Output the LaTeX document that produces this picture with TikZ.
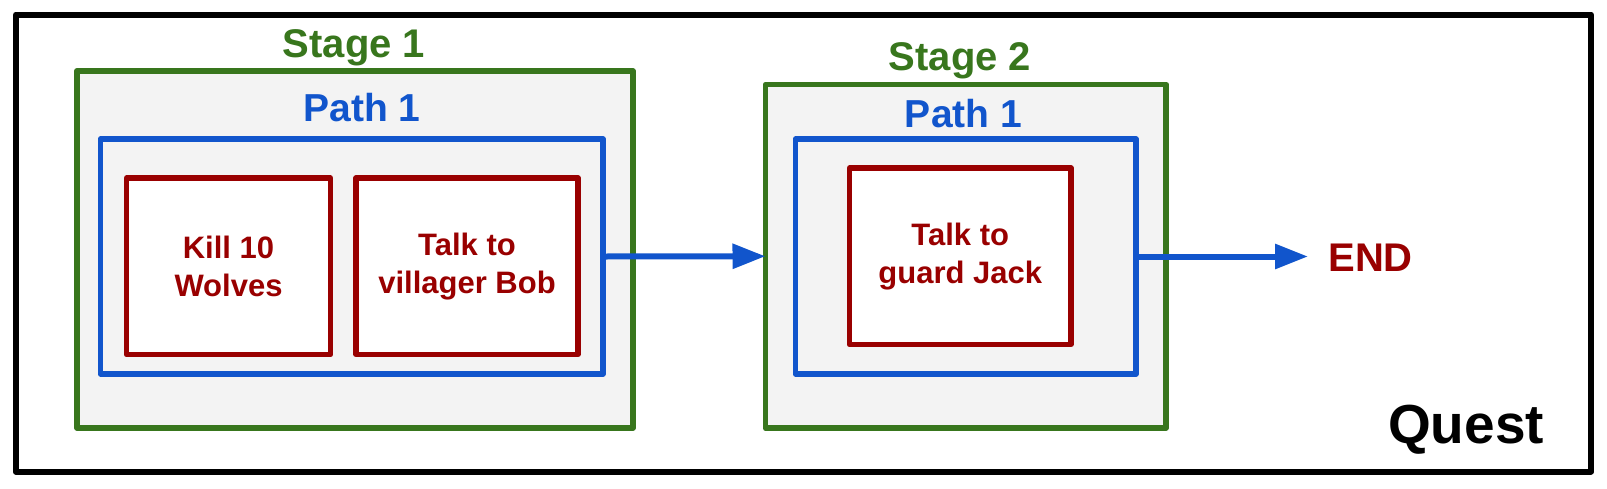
\documentclass[tikz,border=0pt]{standalone}
\usepackage{fontspec}
\setmainfont{Liberation Sans}
\usetikzlibrary{arrows.meta}
\definecolor{qgreen}{HTML}{38761D}
\definecolor{qblue}{HTML}{1155CC}
\definecolor{qred}{HTML}{990000}
\definecolor{qgray}{HTML}{F3F3F3}
\begin{document}
\begin{tikzpicture}[x=0.5pt,y=-0.5pt,
  box/.style={rectangle, outer sep=0pt, inner sep=0pt, line join=round},
  questbox/.style={box, draw=black, line width=3pt},
  stagebox/.style={box, draw=qgreen, fill=qgray, line width=2.9pt},
  pathbox/.style={box, draw=qblue, fill=qgray, line width=2.8pt},
  taskbox/.style={box, draw=qred, fill=white, line width=2.7pt, text=qred,
    font=\bfseries\fontsize{15.5}{19}\selectfont, align=center},
  stagetitle/.style={anchor=base, text=qgreen, inner sep=0pt,
    font=\bfseries\fontsize{20}{24}\selectfont},
  pathtitle/.style={anchor=base, text=qblue, inner sep=0pt,
    font=\bfseries\fontsize{19.5}{24}\selectfont},
  flow/.style={draw=qblue, line width=3pt, -{Triangle[length=16.5pt,width=12pt]}}
]
\useasboundingbox (0,0) rectangle (1607,488);
\fill[white] (0,0) rectangle (1607,488);

% outer quest frame
\node[questbox, minimum width=787.6pt, minimum height=228.5pt] (quest) at (803.4,243) {};
\node[anchor=base, inner sep=0pt, font=\bfseries\fontsize{27.5}{32}\selectfont] (questlabel) at (1466,443) {Quest};

% stage 1
\node[stagebox, minimum width=278pt, minimum height=178.5pt] (s1) at (355,249.5) {};
\node[stagetitle] (s1t) at (354,57) {Stage 1};
\node[pathbox, minimum width=251.25pt, minimum height=117.5pt] (p1) at (351.75,256.5) {};
\node[pathtitle] (p1t) at (362,121) {Path 1};
\node[taskbox, minimum width=102pt, minimum height=88.25pt] (t1) at (228.5,266.25) {Kill 10\\Wolves};
\node[taskbox, minimum width=111pt, minimum height=88.25pt] (t2) at (467,266.25) {Talk to\\villager Bob};

% stage 2
\node[stagebox, minimum width=200.25pt, minimum height=171.75pt] (s2) at (965.75,256.25) {};
\node[stagetitle] (s2t) at (960,70) {Stage 2};
\node[pathbox, minimum width=170.25pt, minimum height=117.5pt] (p2) at (965.75,256.5) {};
\node[pathtitle] (p2t) at (963.5,127) {Path 1};
\node[taskbox, minimum width=110.75pt, minimum height=88.25pt] (t3) at (960.25,256.25) {Talk to\\guard Jack};

% end
\node[anchor=base west, inner sep=0pt, text=qred, font=\bfseries\fontsize{20}{24}\selectfont] (endn) at (1328,271) {END};

% connectors
\draw[flow] (p1.east) -- (s2.west);
\draw[flow, shorten >=10pt] (p2.east) -- (p2.east -| endn.west);
\end{tikzpicture}
\end{document}
